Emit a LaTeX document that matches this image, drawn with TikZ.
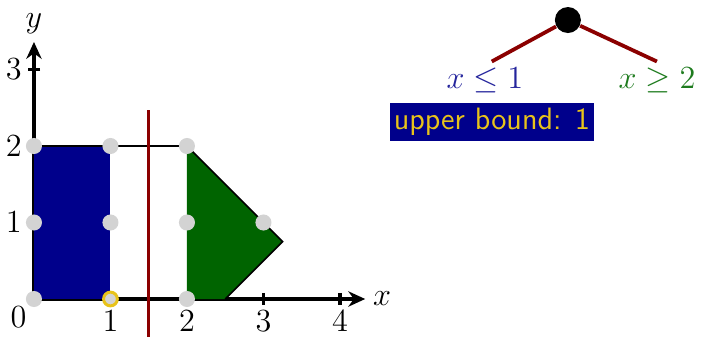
\documentclass[tikz,border=0pt]{standalone}
\usepackage{tikz}
\usetikzlibrary{arrows.meta,positioning}
\definecolor{leftF}{HTML}{00008B}
\definecolor{rightF}{HTML}{006400}
\definecolor{leftT}{HTML}{24249C}
\definecolor{rightT}{HTML}{1E7B1E}
\definecolor{cutC}{HTML}{8B0000}
\definecolor{dotC}{HTML}{D3D3D3}
\definecolor{goldC}{HTML}{E8C31A}
\tikzset{
  axis/.style={-{Stealth[length=2.2mm,width=2mm]}, line width=1.2pt},
  tickmark/.style={line width=1.2pt},
  lat/.style={circle, fill=dotC, inner sep=0pt, minimum size=2.1mm},
  best/.style={lat, draw=goldC, line width=1.1pt, minimum size=1.8mm},
  cut/.style={draw=cutC, line width=1.2pt},
  branch/.style={draw=cutC, line width=1.4pt},
  lab/.style={inner sep=2pt},
  bound/.style={fill=leftF, text=goldC, font=\fontsize{11.5}{14}\selectfont\sffamily,
                minimum width=2.67cm, minimum height=0.5cm, inner sep=1pt},
}

\begin{document}
\begin{tikzpicture}[font=\fontsize{12.5}{15}\selectfont]
\useasboundingbox (-0.444,-0.497) rectangle (8.72,3.909);
% axes
\draw[axis] (0,0) -- (4.33,0) node[right=-1pt] {$x$};
\draw[axis] (0,0) -- (0,3.36) node[above=-1pt] {$y$};
\foreach \i in {3,4} \draw[tickmark] (\i,0.08) -- (\i,-0.08);
\draw[tickmark] (0.08,3) -- (-0.08,3);
\node[below left=-1pt] at (0,0) {$0$};
\foreach \i in {1,...,4} \node[below=1pt] at (\i,0) {$\i$};
\foreach \i in {1,2,3} \node[left=1pt] at (0,\i) {$\i$};
% the two branches of the region
\fill[leftF] (0,0) rectangle (1,2);
\fill[rightF] (2,0) -- (2,2) -- (3.25,0.75) -- (2.5,0) -- cycle;
\draw[line width=1.1pt] (0,2) -- (2,2);
\draw[line width=0.6pt] (2,2) -- (3.25,0.75) -- (2.5,0);
% branching cut
\draw[cut] (1.5,2.47) -- (1.5,-0.497);
% integer points
\foreach \p in {(0,0),(0,1),(0,2),(1,1),(1,2),(2,0),(2,1),(2,2),(3,1)}
  \node[lat] at \p {};
\node[best] (opt) at (1,0) {};
% branch and bound tree
\node[circle, fill=black, minimum size=3.4mm, inner sep=0pt] (root) at (6.98,3.647) {};
\node[lab, text=leftT] (le) at (5.895,2.863) {$x \le 1$};
\node[lab, text=rightT] (ge) at (8.144,2.863) {$x \ge 2$};
\draw[branch] (root) -- ([xshift=0.09cm]le.north);
\draw[branch] (root) -- (ge.north);
\node[bound] (ub) at (5.987,2.314) {upper bound: 1};
\end{tikzpicture}
\end{document}
